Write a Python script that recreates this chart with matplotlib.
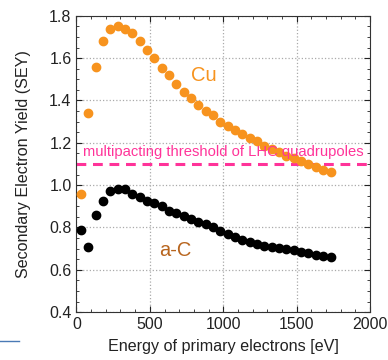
import matplotlib.pyplot as plt
from matplotlib.ticker import MultipleLocator
from matplotlib.lines import Line2D

plt.rcParams['font.family'] = ['Liberation Sans', 'DejaVu Sans']

energy = [30, 80, 130, 180, 230, 280, 330, 380, 430, 480, 530, 580, 630, 680,
          730, 780, 830, 880, 930, 980, 1030, 1080, 1130, 1180, 1230, 1280,
          1330, 1380, 1430, 1480, 1530, 1580, 1630, 1680, 1730]
sey_cu = [0.96, 1.34, 1.56, 1.68, 1.74, 1.75, 1.74, 1.72, 1.68, 1.64, 1.60,
          1.555, 1.52, 1.48, 1.44, 1.41, 1.38, 1.35, 1.33, 1.30, 1.28, 1.26,
          1.24, 1.225, 1.21, 1.185, 1.17, 1.155, 1.14, 1.13, 1.115, 1.10,
          1.085, 1.07, 1.06]
sey_ac = [0.79, 0.71, 0.86, 0.925, 0.97, 0.98, 0.98, 0.96, 0.945, 0.925,
          0.915, 0.90, 0.88, 0.87, 0.855, 0.84, 0.825, 0.815, 0.80, 0.785,
          0.77, 0.757, 0.742, 0.73, 0.722, 0.714, 0.71, 0.705, 0.70, 0.693,
          0.686, 0.68, 0.67, 0.663, 0.66]
threshold = 1.1

fig = plt.figure(figsize=(3.88, 3.6), dpi=100)
ax = fig.add_axes([0.197, 0.133, 0.757, 0.823])

ax.grid(True, which='major', color='#aaaaaa', linestyle=':', linewidth=0.9)
ax.set_axisbelow(True)

ax.axhline(threshold, color='#ff3399', linestyle=(0, (3.2, 2.2)), linewidth=2.2, zorder=2)
ax.plot(energy, sey_ac, 'o', color='black', markersize=6, zorder=3)
ax.plot(energy, sey_cu, 'o', color='#f7931e', markersize=6, zorder=3)

ax.text(1000, 1.158, 'multipacting threshold of LHC quadrupoles', color='#ff3399',
        fontsize=10.6, ha='center', va='center')
ax.text(870, 1.52, 'Cu', color='#f7931e', fontsize=14.5, ha='center', va='center')
ax.text(672, 0.693, 'a-C', color='#b8651e', fontsize=14.5, ha='center', va='center')

ax.set_xlim(0, 2000)
ax.set_ylim(0.4, 1.8)
ax.xaxis.set_major_locator(MultipleLocator(500))
ax.xaxis.set_minor_locator(MultipleLocator(100))
ax.yaxis.set_major_locator(MultipleLocator(0.2))
ax.yaxis.set_minor_locator(MultipleLocator(0.05))
ax.yaxis.set_major_formatter(plt.FormatStrFormatter('%.1f'))
ax.tick_params(which='both', direction='in', top=True, right=True, labelsize=11.5, colors='#222222')
ax.tick_params(which='major', length=4)
ax.tick_params(which='minor', length=2.5)
for s in ax.spines.values():
    s.set_color('#333333')

ax.set_xlabel('Energy of primary electrons [eV]', fontsize=11.6, color='#222222', labelpad=5)
ax.set_ylabel('Secondary Electron Yield (SEY)', fontsize=11.6, color='#222222', labelpad=13)

fig.add_artist(Line2D([0.0, 0.05], [0.053, 0.053], color='#4a7ab5', linewidth=1))

fig.savefig('out.png', dpi=100)
